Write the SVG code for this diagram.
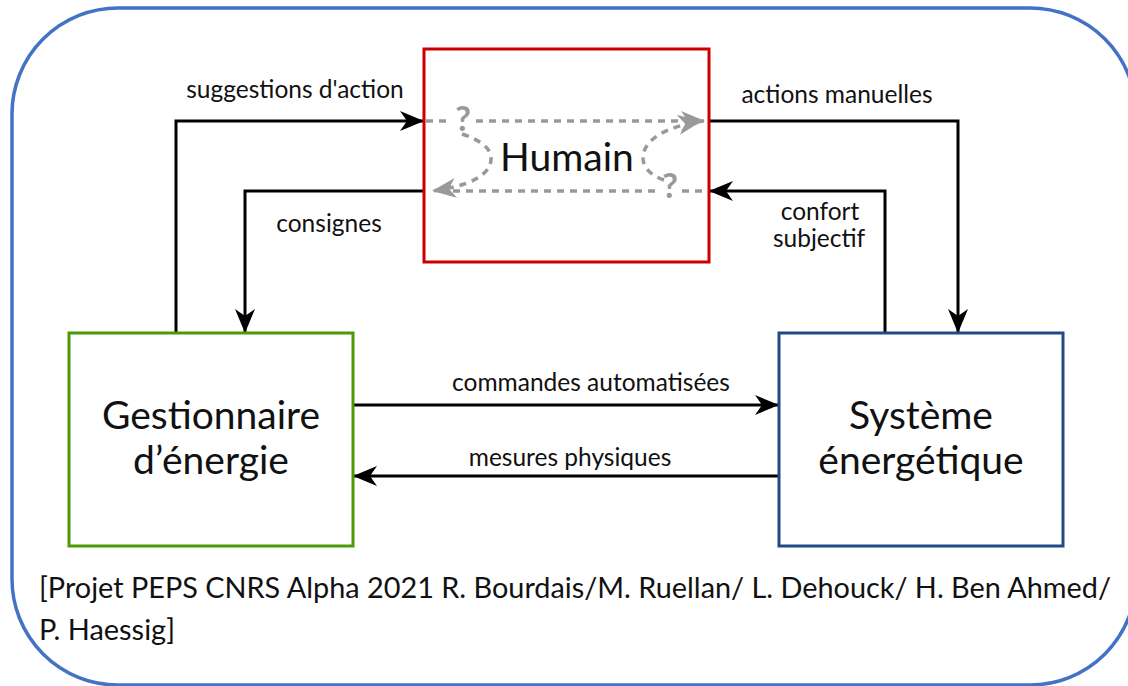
<svg xmlns="http://www.w3.org/2000/svg" width="1128" height="686" viewBox="0 0 1128 686">
<defs>
<style>
.lbl{font-family:Lato,"Noto Sans",sans-serif;font-size:24.5px;fill:#111;text-anchor:middle}
.big{font-family:Lato,"Noto Sans",sans-serif;font-size:39px;fill:#111;text-anchor:middle}
.foot{font-family:Lato,"Liberation Sans",sans-serif;font-size:28px;fill:#111}
.q{font-family:Lato,"Noto Sans",sans-serif;font-size:34px;font-weight:bold;fill:#999;text-anchor:middle}
.c{fill:none;stroke:#000;stroke-width:3}
.g{fill:none;stroke:#999;stroke-width:3.5;stroke-dasharray:7 6}
</style>
<marker id="ah" viewBox="-24 -11 24 22" refX="0" refY="0" markerWidth="24" markerHeight="22" markerUnits="userSpaceOnUse" orient="auto">
<path d="M0 0 L-24 -10 L-17 0 L-24 10 Z" fill="#000"/>
</marker>
<marker id="gh" viewBox="-24 -11 24 22" refX="0" refY="0" markerWidth="24" markerHeight="22" markerUnits="userSpaceOnUse" orient="auto">
<path d="M0 0 L-24 -10 L-17 0 L-24 10 Z" fill="#999"/>
</marker>
</defs>
<rect x="0" y="0" width="1128" height="686" fill="#fff"/>
<rect id="frame" x="12" y="8" width="1124" height="677" rx="106" ry="106" fill="#fff" stroke="#4472C4" stroke-width="3.5"/>

<g id="connectors">
<path class="c" d="M176 333 V121 H424" marker-end="url(#ah)"/>
<path class="c" d="M424 191 H245 V333" marker-end="url(#ah)"/>
<path class="c" d="M709 121 H958 V333" marker-end="url(#ah)"/>
<path class="c" d="M885 333 V191 H709" marker-end="url(#ah)"/>
<path class="c" d="M353 405 H779" marker-end="url(#ah)"/>
<path class="c" d="M779 476 H353" marker-end="url(#ah)"/>
<text class="lbl" x="295" y="98">suggestions d'action</text>
<text class="lbl" x="329" y="232">consignes</text>
<text class="lbl" x="837" y="103">actions manuelles</text>
<text class="lbl" x="820" y="220">confort</text>
<text class="lbl" x="819" y="247">subjectif</text>
<text class="lbl" x="591" y="391">commandes automatisées</text>
<text class="lbl" x="570" y="466">mesures physiques</text>
</g>

<g id="humain">
<rect x="424" y="49" width="285" height="213" fill="#fff" stroke="#CC0000" stroke-width="3"/>
<text class="big" x="567" y="171">Humain</text>
<g id="humain-flows">
<path class="g" d="M426 121 H452" stroke-dasharray="5 5"/>
<path class="g" d="M476 121 H705" marker-end="url(#gh)"/>
<path class="g" d="M462 134 C480 140 492 148 491 160 C490 175 470 186 432 191" marker-end="url(#gh)"/>
<path class="g" d="M655 191 H440"/>
<path class="g" d="M682 191 H707" stroke-dasharray="5 5"/>
<path class="g" d="M664 180 C652 176 643 168 643 158 C643 140 665 127 702 121" marker-end="url(#gh)"/>
<text class="q" x="463" y="131">?</text>
<text class="q" x="670" y="198">?</text>
</g>
</g>

<g id="gestionnaire">
<rect x="69" y="333" width="284" height="213" fill="#fff" stroke="#4E9A06" stroke-width="3"/>
<text class="big" x="211" y="429">Gestionnaire</text>
<text class="big" x="211" y="474">d’énergie</text>
</g>

<g id="systeme">
<rect x="779" y="333" width="284" height="213" fill="#fff" stroke="#204A87" stroke-width="3"/>
<text class="big" x="921" y="429">Système</text>
<text class="big" x="921" y="474">énergétique</text>
</g>

<g id="footer">
<text class="foot" x="39" y="598" textLength="1072" lengthAdjust="spacingAndGlyphs">[Projet PEPS CNRS Alpha 2021 R. Bourdais/M. Ruellan/ L. Dehouck/ H. Ben Ahmed/</text>
<text class="foot" x="39" y="640" textLength="136" lengthAdjust="spacingAndGlyphs">P. Haessig]</text>
</g>
</svg>
